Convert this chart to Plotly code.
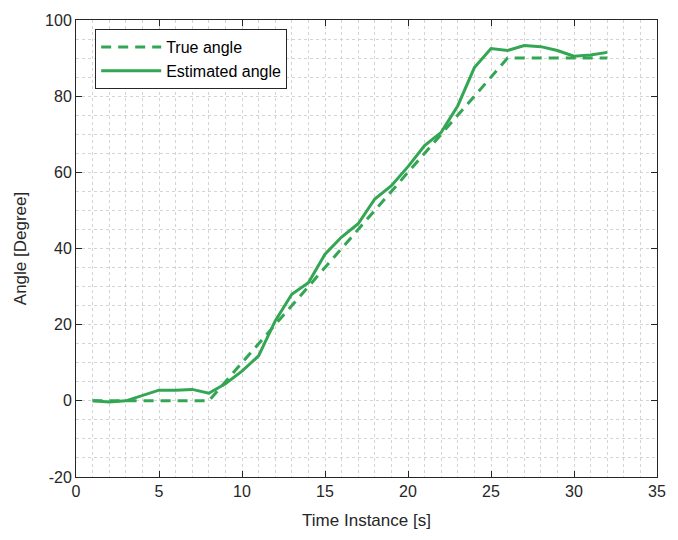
import plotly.graph_objects as go

# Time instants (seconds)
t = list(range(1, 33))

# Ground-truth steering angle (degrees)
true_angle = [0, 0, 0, 0, 0, 0, 0, 0,
              5, 10, 15, 20, 25, 30, 35, 40, 45, 50, 55, 60,
              65, 70, 75, 80, 85, 90,
              90, 90, 90, 90, 90, 90]

# Estimated angle (degrees)
est_angle = [0, -0.3, 0, 1.3, 2.8, 2.8, 3.0, 2.0,
             4.5, 7.8, 11.8, 21.0, 28.0, 31.0, 38.5, 43.0, 46.5, 53.0, 56.5, 61.5,
             67.0, 70.5, 77.5, 87.5, 92.5, 92.0,
             93.3, 93.0, 92.0, 90.5, 90.8, 91.5]

# Tick labels (plain hyphen for negatives)
x_ticks = [0, 5, 10, 15, 20, 25, 30, 35]
y_ticks = [-20, 0, 20, 40, 60, 80, 100]

green = "#33a653"
font = "Liberation Sans, Arial, sans-serif"
grid = "#d4d4d4"

fig = go.Figure()
fig.add_trace(go.Scatter(x=t, y=true_angle, mode="lines", name="True angle",
                         line=dict(color=green, width=3, dash="10px,7px")))
fig.add_trace(go.Scatter(x=t, y=est_angle, mode="lines", name="Estimated angle",
                         line=dict(color=green, width=3)))

axis_common = dict(
    showline=True, linecolor="#262626", linewidth=1, mirror="ticks",
    ticks="inside", ticklen=6, tickcolor="#262626",
    showgrid=True, gridcolor=grid, griddash="dot", gridwidth=1,
    zeroline=False,
    tickfont=dict(family=font, size=16, color="#262626"),
)

fig.update_xaxes(
    range=[0, 35], tickvals=x_ticks, ticktext=[str(v) for v in x_ticks],
    minor=dict(dtick=1, tick0=0, showgrid=True, gridcolor=grid, griddash="dot", gridwidth=1),
    title=dict(text="Time Instance [s]", font=dict(family=font, size=17, color="#262626"), standoff=14),
    **axis_common,
)
fig.update_yaxes(
    range=[-20, 100], tickvals=y_ticks, ticktext=[str(v) for v in y_ticks],
    minor=dict(dtick=5, tick0=0, showgrid=True, gridcolor=grid, griddash="dot", gridwidth=1),
    title=dict(text="Angle [Degree]", font=dict(family=font, size=17, color="#262626"), standoff=14),
    **axis_common,
)

fig.update_layout(
    width=678, height=540,
    margin=dict(l=76, r=16, t=13, b=63),
    plot_bgcolor="white", paper_bgcolor="white",
    font=dict(family=font, color="#262626"),
    legend=dict(
        x=0.033, y=0.98, xanchor="left", yanchor="top",
        bgcolor="white", bordercolor="#262626", borderwidth=1,
        font=dict(family=font, size=16, color="#000000"),
        itemwidth=60, tracegroupgap=0,
    ),
    showlegend=True,
)

fig.write_html("out.html")
